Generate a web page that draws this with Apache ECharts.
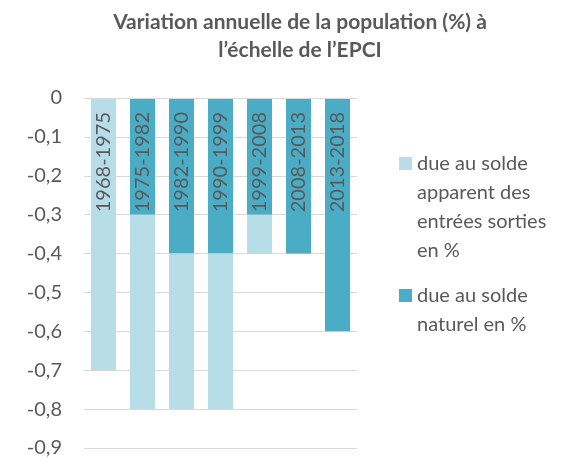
<!DOCTYPE html>
<html>
<head>
<meta charset="utf-8">
<script src="https://cdn.jsdelivr.net/npm/echarts@6/dist/echarts.min.js"></script>
<style>
  html, body { margin: 0; padding: 0; background: #ffffff; }
  #chart { width: 565px; height: 460px; }
</style>
</head>
<body>
<div id="chart"></div>
<script>
// Periods shown along the top of the chart
const periods = ['1968-1975', '1975-1982', '1982-1990', '1990-1999', '1999-2008', '2008-2013', '2013-2018'];
// Annual change due to natural balance (%)
const naturel = [0, -0.3, -0.4, -0.4, -0.3, -0.4, -0.6];
// Annual change due to apparent migration balance (%)
const apparent = [-0.7, -0.5, -0.4, -0.4, -0.1, 0, 0];

const nameApparent = 'due au solde apparent des entrées sorties en %';
const nameNaturel = 'due au solde naturel en %';

const textColor = '#595959';
const font = 'Lato, "Open Sans", sans-serif';
const lineH = 29;

// Legend labels are wrapped; leading blank lines keep the swatch level with the first line
function wrapped(lines) {
  const pad = new Array(lines.length - 1).fill(' ');
  return pad.concat(lines).join('\n');
}

const chart = echarts.init(document.getElementById('chart'), null, { renderer: 'canvas' });

chart.setOption({
  animation: false,
  title: {
    text: 'Variation annuelle de la population (%) à\nl\u2019échelle de l\u2019EPCI',
    left: 300,
    top: 8,
    padding: 0,
    textAlign: 'center',
    textStyle: {
      fontFamily: font,
      fontWeight: 'bold',
      fontSize: 21,
      lineHeight: 28,
      color: textColor
    }
  },
  legend: [
    {
      orient: 'vertical',
      left: 399,
      top: 62,
      padding: 0,
      itemWidth: 13,
      itemHeight: 13,
      icon: 'rect',
      selectedMode: false,
      data: [nameApparent],
      formatter: () => wrapped(['due au solde', 'apparent des', 'entrées sorties', 'en %']),
      textStyle: { fontFamily: font, fontSize: 20, lineHeight: lineH, color: textColor }
    },
    {
      orient: 'vertical',
      left: 399,
      top: 252,
      padding: 0,
      itemWidth: 13,
      itemHeight: 13,
      icon: 'rect',
      selectedMode: false,
      data: [nameNaturel],
      formatter: () => wrapped(['due au solde', 'naturel en %']),
      textStyle: { fontFamily: font, fontSize: 20, lineHeight: lineH, color: textColor }
    }
  ],
  grid: {
    left: 84,
    top: 98,
    width: 273,
    height: 350,
    containLabel: false
  },
  xAxis: {
    type: 'category',
    data: periods,
    position: 'top',
    z: 10,
    axisLine: { show: true, lineStyle: { color: '#d9d9d9', width: 1 } },
    axisTick: { show: false },
    axisLabel: {
      inside: true,
      rotate: 90,
      margin: 14,
      fontFamily: font,
      fontSize: 20,
      color: textColor
    }
  },
  yAxis: {
    type: 'value',
    min: -0.9,
    max: 0,
    interval: 0.1,
    axisLine: { show: false },
    axisTick: { show: false },
    splitLine: { lineStyle: { color: '#d9d9d9', width: 1 } },
    axisLabel: {
      margin: 22,
      fontFamily: font,
      fontSize: 20,
      color: textColor,
      formatter: v => {
        const r = Math.round(v * 10) / 10;
        return r === 0 ? '0' : r.toFixed(1).replace('.', ',');
      }
    }
  },
  series: [
    {
      name: nameNaturel,
      type: 'bar',
      stack: 'total',
      data: naturel,
      barWidth: 25,
      itemStyle: { color: '#4BACC6' }
    },
    {
      name: nameApparent,
      type: 'bar',
      stack: 'total',
      data: apparent,
      barWidth: 25,
      itemStyle: { color: '#B7DEE8' }
    }
  ]
});
</script>
</body>
</html>
